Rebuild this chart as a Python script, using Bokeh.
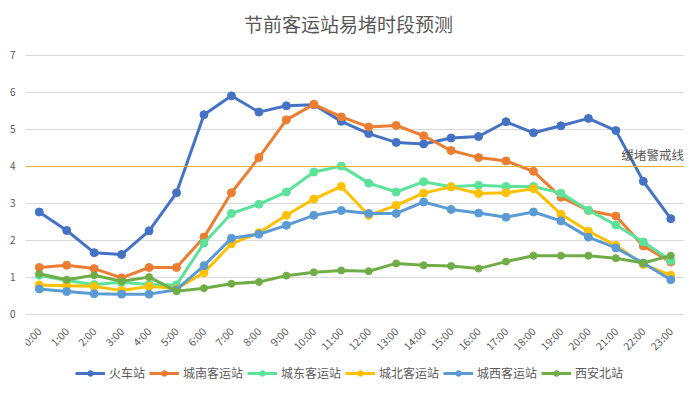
from bokeh.plotting import figure
from bokeh.models import Range1d, FixedTicker, Span, Label, Legend, LegendItem, ColumnDataSource
from bokeh.embed import file_html
from bokeh.resources import INLINE
import math

title_text = "节前客运站易堵时段预测"
hours = [f"{h}:00" for h in range(24)]
stations = ["火车站", "城南客运站", "城东客运站", "城北客运站", "城西客运站", "西安北站"]
colors = ["#4472C4", "#ED7D31", "#5BE39A", "#FFC000", "#5B9BD5", "#70AD47"]

huoche = [2.77, 2.27, 1.67, 1.62, 2.26, 3.29, 5.40, 5.91, 5.47, 5.64, 5.67, 5.22,
          4.89, 4.65, 4.61, 4.77, 4.81, 5.21, 4.91, 5.10, 5.30, 4.97, 3.60, 2.59]
chengnan = [1.27, 1.33, 1.24, 0.99, 1.27, 1.27, 2.09, 3.29, 4.24, 5.26, 5.68, 5.34,
             5.07, 5.11, 4.83, 4.43, 4.24, 4.15, 3.87, 3.17, 2.81, 2.66, 1.85, 1.42]
chengdong = [1.06, 0.92, 0.81, 0.87, 0.81, 0.80, 1.93, 2.73, 2.98, 3.31, 3.85, 4.01,
             3.55, 3.31, 3.59, 3.45, 3.49, 3.46, 3.46, 3.28, 2.82, 2.42, 1.96, 1.46]
chengbei = [0.80, 0.78, 0.76, 0.65, 0.76, 0.70, 1.13, 1.91, 2.21, 2.68, 3.12, 3.46,
            2.68, 2.95, 3.28, 3.45, 3.27, 3.29, 3.40, 2.71, 2.25, 1.87, 1.35, 1.06]
chengxi = [0.69, 0.62, 0.56, 0.55, 0.55, 0.67, 1.32, 2.06, 2.17, 2.41, 2.68, 2.81,
           2.73, 2.73, 3.04, 2.84, 2.74, 2.63, 2.77, 2.53, 2.09, 1.80, 1.39, 0.94]
xianbei = [1.10, 0.94, 1.06, 0.90, 1.01, 0.63, 0.71, 0.83, 0.88, 1.05, 1.14, 1.19,
           1.17, 1.38, 1.33, 1.31, 1.24, 1.43, 1.59, 1.59, 1.59, 1.52, 1.39, 1.59]
series = [huoche, chengnan, chengdong, chengbei, chengxi, xianbei]

warn_level = 4
warn_text = "缓堵警戒线"
y_ticks = [0, 1, 2, 3, 4, 5, 6, 7]

FONT = "Noto Sans CJK SC"
TXT = "#595959"

x = list(range(len(hours)))

# frame covers the whole canvas height; value axis spans 0..7 between px 55 and 314
p = figure(width=684, height=381, output_backend="svg", toolbar_location=None,
           x_range=Range1d(-0.5, len(hours) - 0.5), y_range=Range1d(-1.811, 8.486),
           x_axis_location=None,
           min_border_left=25, min_border_right=0, min_border_top=0, min_border_bottom=0)
p.title.visible = False
p.outline_line_color = None
p.background_fill_color = "white"
p.border_fill_color = "white"

p.xgrid.visible = False
p.ygrid.ticker = FixedTicker(ticks=y_ticks)
p.ygrid.grid_line_color = "#D9D9D9"
p.ygrid.grid_line_width = 1

p.yaxis.ticker = FixedTicker(ticks=y_ticks)
p.yaxis.axis_line_color = None
p.yaxis.major_tick_line_color = None
p.yaxis.minor_tick_line_color = None
p.yaxis.major_label_text_font = FONT
p.yaxis.major_label_text_font_size = "10px"
p.yaxis.major_label_text_color = TXT
p.yaxis.major_label_standoff = 4

# category labels (rotated) below the value axis
lab_src = ColumnDataSource(dict(x=x, y=[-0.4] * len(hours), t=hours))
p.text("x", "y", text="t", source=lab_src, angle=math.pi / 4,
       text_font={"value": FONT}, text_font_size="10.5px", text_color=TXT,
       text_align="right", text_baseline="middle")

p.add_layout(Span(location=warn_level, dimension="width", line_color="#E2B42C", line_width=1.2))

items = []
for name, vals, col in zip(stations, series, colors):
    src = ColumnDataSource(dict(x=x, y=vals))
    r1 = p.line("x", "y", source=src, line_color=col, line_width=3)
    sz = 7 if name == "西安北站" else 8
    r2 = p.scatter("x", "y", source=src, marker="circle", size=sz, fill_color=col, line_color=col)
    items.append(LegendItem(label=name, renderers=[r1, r2]))

legend = Legend(items=items, orientation="horizontal", location=(50, 0),
                glyph_width=30, glyph_height=14, label_standoff=4, spacing=4, padding=0, margin=0,
                label_text_font=FONT, label_text_font_size="12px", label_text_color=TXT,
                border_line_color=None, background_fill_alpha=0)
p.add_layout(legend, "center")

p.add_layout(Label(x=11.26, y=7.865, text=title_text, text_font=FONT, text_font_size="19px",
                   text_color=TXT, text_align="center", text_baseline="middle"))
p.add_layout(Label(x=21.21, y=4.32, text=warn_text, text_font=FONT, text_font_size="12.5px",
                   text_color=TXT, text_align="left", text_baseline="middle"))

open("out.html", "w").write(file_html(p, INLINE))
